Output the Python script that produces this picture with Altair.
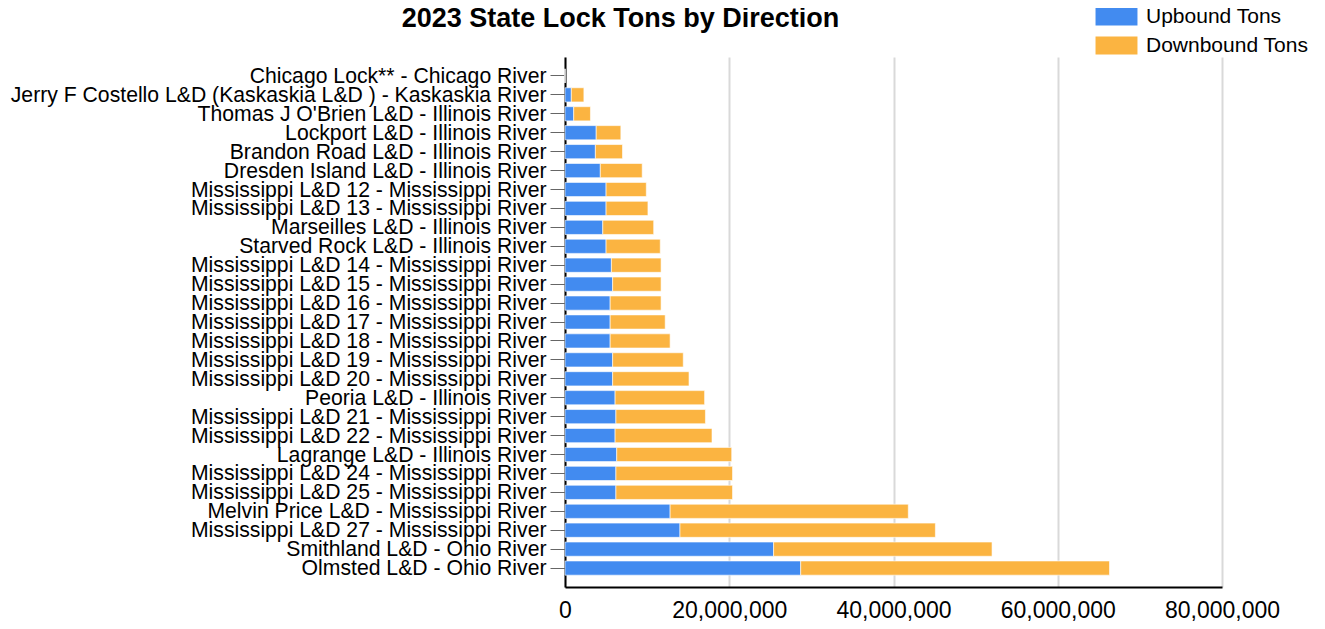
import altair as alt
import pandas as pd

locks = [
    "Chicago Lock** - Chicago River",
    "Jerry F Costello L&D (Kaskaskia L&D ) - Kaskaskia River",
    "Thomas J O'Brien L&D - Illinois River",
    "Lockport L&D - Illinois River",
    "Brandon Road L&D - Illinois River",
    "Dresden Island L&D - Illinois River",
    "Mississippi L&D 12 - Mississippi River",
    "Mississippi L&D 13 - Mississippi River",
    "Marseilles L&D - Illinois River",
    "Starved Rock L&D - Illinois River",
    "Mississippi L&D 14 - Mississippi River",
    "Mississippi L&D 15 - Mississippi River",
    "Mississippi L&D 16 - Mississippi River",
    "Mississippi L&D 17 - Mississippi River",
    "Mississippi L&D 18 - Mississippi River",
    "Mississippi L&D 19 - Mississippi River",
    "Mississippi L&D 20 - Mississippi River",
    "Peoria L&D - Illinois River",
    "Mississippi L&D 21 - Mississippi River",
    "Mississippi L&D 22 - Mississippi River",
    "Lagrange L&D - Illinois River",
    "Mississippi L&D 24 - Mississippi River",
    "Mississippi L&D 25 - Mississippi River",
    "Melvin Price L&D - Mississippi River",
    "Mississippi L&D 27 - Mississippi River",
    "Smithland L&D - Ohio River",
    "Olmsted L&D - Ohio River",
]

upbound = [
    0, 770000, 1060000, 3800000, 3700000, 4300000, 5000000, 5000000, 4600000,
    5000000, 5650000, 5800000, 5500000, 5500000, 5500000, 5800000, 5800000,
    6100000, 6200000, 6100000, 6300000, 6200000, 6200000, 12800000, 14000000,
    25400000, 28700000,
]
total = [
    0, 2300000, 3100000, 6800000, 7000000, 9400000, 9900000, 10100000, 10800000,
    11600000, 11700000, 11700000, 11700000, 12200000, 12800000, 14400000, 15100000,
    17000000, 17100000, 17900000, 20300000, 20400000, 20400000, 41800000, 45100000,
    52000000, 66300000,
]
downbound = [t - u for t, u in zip(total, upbound)]

series = ["Upbound Tons", "Downbound Tons"]
colors = ["#428BF0", "#FBB441"]
x_ticks = [0, 20000000, 40000000, 60000000, 80000000]

rows = []
for name, u, d in zip(locks, upbound, downbound):
    rows.append({"Lock": name, "Direction": series[0], "Tons": u, "ord": 0})
    rows.append({"Lock": name, "Direction": series[1], "Tons": d, "ord": 1})
df = pd.DataFrame(rows)

FONT = "Liberation Sans"

chart = (
    alt.Chart(df)
    .mark_bar(stroke="#ffffff", strokeOpacity=0.6, strokeWidth=1)
    .encode(
        y=alt.Y(
            "Lock:N",
            sort=locks,
            title=None,
            scale=alt.Scale(paddingInner=0.25, paddingOuter=0.625),
            axis=alt.Axis(
                labelFontSize=21.2,
                labelFont=FONT,
                labelColor="#000000",
                labelPadding=4,
                labelLimit=700,
                labelOffset=1,
                tickSize=15,
                tickColor="#666666",
                domainColor="#000000",
                domainWidth=2,
                grid=False,
            ),
        ),
        x=alt.X(
            "Tons:Q",
            stack="zero",
            title=None,
            scale=alt.Scale(domain=[0, 80000000], nice=False),
            axis=alt.Axis(
                values=x_ticks,
                format=",d",
                labelFontSize=23,
                labelFont=FONT,
                labelColor="#000000",
                labelPadding=12,
                ticks=False,
                domainColor="#000000",
                domainWidth=2,
                grid=True,
                gridColor="#d9d9d9",
                gridWidth=2,
                labelFlush=False,
            ),
        ),
        color=alt.Color(
            "Direction:N",
            sort=series,
            scale=alt.Scale(domain=series, range=colors),
            legend=alt.Legend(
                title=None,
                orient="none",
                legendX=541,
                legendY=-51,
                symbolType="M-2.33,-1L2.33,-1L2.33,1L-2.33,1Z",
                symbolSize=324,
                symbolStrokeWidth=0,
                symbolOpacity=1,
                labelFontSize=21,
                labelFont=FONT,
                labelColor="#000000",
                labelOffset=19,
                labelLimit=300,
                rowPadding=7,
                padding=0,
            ),
        ),
        order=alt.Order("ord:Q"),
    )
    .properties(
        width=657,
        height=530,
        title=alt.TitleParams(
            "2023 State Lock Tons by Direction",
            fontSize=27,
            font=FONT,
            fontWeight="bold",
            color="#000000",
            anchor="middle",
            dx=-273,
            offset=-27,
        ),
        autosize=alt.AutoSizeParams(type="none"),
        padding={"left": 557, "top": 49, "right": 95, "bottom": 40},
    )
    .configure_view(stroke=None)
)

chart.save("out.html", embed_options={"renderer": "svg", "actions": False})
